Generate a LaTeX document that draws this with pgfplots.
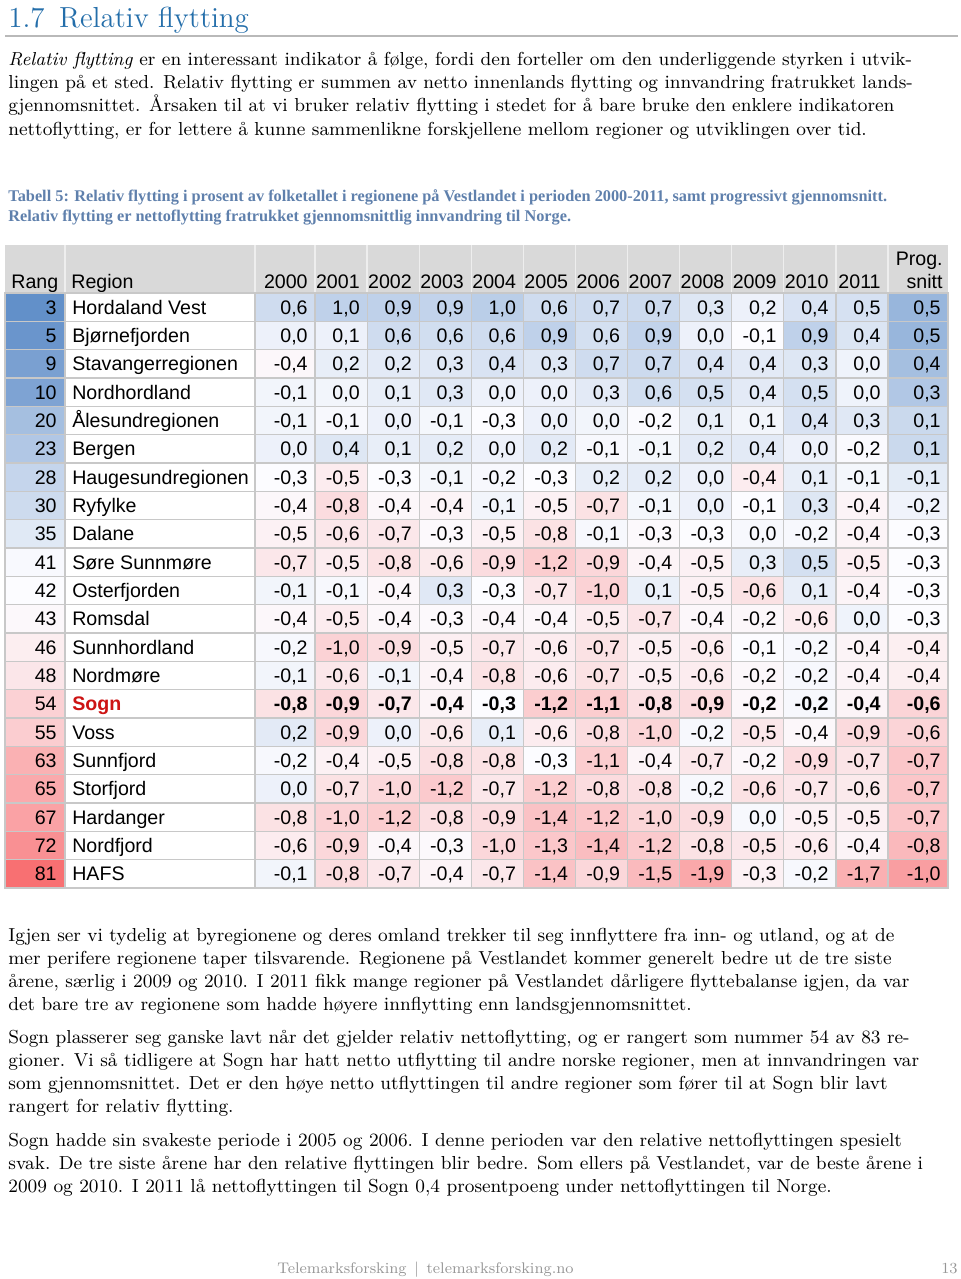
\documentclass[border=0pt]{standalone}
\usepackage{fontspec}
\usepackage{pgfplots}
\pgfplotsset{compat=1.18}
\usepackage{pgfplotstable}
\newfontfamily\tabfont{Liberation Sans}
\newfontfamily\capfont{Liberation Serif}
\definecolor{gridc}{RGB}{200,200,200}
\definecolor{headg}{RGB}{217,217,217}
\definecolor{headl}{RGB}{238,238,238}
\definecolor{titleblue}{RGB}{36,110,170}
\definecolor{capblue}{RGB}{95,128,172}
\definecolor{sognred}{RGB}{205,20,20}
\definecolor{footg}{RGB}{150,150,150}
\definecolor{rulegray}{RGB}{185,185,185}

\pgfdeclareplotmark{cellA}{\pgfpathrectangle{\pgfpoint{-15pt}{-7.0833pt}}{\pgfpoint{30pt}{14.1667pt}}\pgfusepathqfillstroke}
\pgfdeclareplotmark{cellB}{\pgfpathrectangle{\pgfpoint{-13.0225pt}{-7.0833pt}}{\pgfpoint{26.045pt}{14.1667pt}}\pgfusepathqfillstroke}
\pgfdeclareplotmark{cellR}{\pgfpathrectangle{\pgfpoint{-47.5pt}{-7.0833pt}}{\pgfpoint{95pt}{14.1667pt}}\pgfusepathqfillstroke}

% row = position in the table (0 = top)
\pgfplotstableread[col sep=comma]{
row,rank,region,y00,y01,y02,y03,y04,y05,y06,y07,y08,y09,y10,y11,prog
0,3,Hordaland Vest,0.6,1.0,0.9,0.9,1.0,0.6,0.7,0.7,0.3,0.2,0.4,0.5,0.5
1,5,Bjørnefjorden,0.0,0.1,0.6,0.6,0.6,0.9,0.6,0.9,0.0,-0.1,0.9,0.4,0.5
2,9,Stavangerregionen,-0.4,0.2,0.2,0.3,0.4,0.3,0.7,0.7,0.4,0.4,0.3,0.0,0.4
3,10,Nordhordland,-0.1,0.0,0.1,0.3,0.0,0.0,0.3,0.6,0.5,0.4,0.5,0.0,0.3
4,20,Ålesundregionen,-0.1,-0.1,0.0,-0.1,-0.3,0.0,0.0,-0.2,0.1,0.1,0.4,0.3,0.1
5,23,Bergen,0.0,0.4,0.1,0.2,0.0,0.2,-0.1,-0.1,0.2,0.4,0.0,-0.2,0.1
6,28,Haugesundregionen,-0.3,-0.5,-0.3,-0.1,-0.2,-0.3,0.2,0.2,0.0,-0.4,0.1,-0.1,-0.1
7,30,Ryfylke,-0.4,-0.8,-0.4,-0.4,-0.1,-0.5,-0.7,-0.1,0.0,-0.1,0.3,-0.4,-0.2
8,35,Dalane,-0.5,-0.6,-0.7,-0.3,-0.5,-0.8,-0.1,-0.3,-0.3,0.0,-0.2,-0.4,-0.3
9,41,Søre Sunnmøre,-0.7,-0.5,-0.8,-0.6,-0.9,-1.2,-0.9,-0.4,-0.5,0.3,0.5,-0.5,-0.3
10,42,Osterfjorden,-0.1,-0.1,-0.4,0.3,-0.3,-0.7,-1.0,0.1,-0.5,-0.6,0.1,-0.4,-0.3
11,43,Romsdal,-0.4,-0.5,-0.4,-0.3,-0.4,-0.4,-0.5,-0.7,-0.4,-0.2,-0.6,0.0,-0.3
12,46,Sunnhordland,-0.2,-1.0,-0.9,-0.5,-0.7,-0.6,-0.7,-0.5,-0.6,-0.1,-0.2,-0.4,-0.4
13,48,Nordmøre,-0.1,-0.6,-0.1,-0.4,-0.8,-0.6,-0.7,-0.5,-0.6,-0.2,-0.2,-0.4,-0.4
15,55,Voss,0.2,-0.9,0.0,-0.6,0.1,-0.6,-0.8,-1.0,-0.2,-0.5,-0.4,-0.9,-0.6
16,63,Sunnfjord,-0.2,-0.4,-0.5,-0.8,-0.8,-0.3,-1.1,-0.4,-0.7,-0.2,-0.9,-0.7,-0.7
17,65,Storfjord,0.0,-0.7,-1.0,-1.2,-0.7,-1.2,-0.8,-0.8,-0.2,-0.6,-0.7,-0.6,-0.7
18,67,Hardanger,-0.8,-1.0,-1.2,-0.8,-0.9,-1.4,-1.2,-1.0,-0.9,0.0,-0.5,-0.5,-0.7
19,72,Nordfjord,-0.6,-0.9,-0.4,-0.3,-1.0,-1.3,-1.4,-1.2,-0.8,-0.5,-0.6,-0.4,-0.8
20,81,HAFS,-0.1,-0.8,-0.7,-0.4,-0.7,-1.4,-0.9,-1.5,-1.9,-0.3,-0.2,-1.7,-1.0
}\vestdata

\pgfplotstableread[col sep=comma]{
row,rank,region,y00,y01,y02,y03,y04,y05,y06,y07,y08,y09,y10,y11,prog
14,54,Sogn,-0.8,-0.9,-0.7,-0.4,-0.3,-1.2,-1.1,-0.8,-0.9,-0.2,-0.2,-0.4,-0.6
}\sogndata

\tikzset{
  tabnode/.style={text=black, inner sep=0pt, font=\tabfont\fontsize{9.8}{11}\selectfont},
  tabnodeb/.style={text=black, inner sep=0pt, font=\tabfont\bfseries\fontsize{9.8}{11}\selectfont},
  tabnoder/.style={text=sognred, inner sep=0pt, font=\tabfont\bfseries\fontsize{9.8}{11}\selectfont},
}

% column, x centre, mark, xshift, white value, positive span, negative span, table, node style
\newcommand{\valcol}[9]{%
\addplot[only marks, scatter, mark=#3, point meta=explicit,
  scatter/use mapped color={draw=gridc,fill=mapped color},
  mark options={line width=0.6pt},
] table[x expr=#2, y expr={307.17+28.333*\thisrow{row}},
  meta expr={max(-1,min(1,(\thisrow{#1}-(#5))/ifthenelse(\thisrow{#1}>(#5),#6,#7)))}] {#8};
\addplot[draw=none, mark=none,
  visualization depends on={\thisrow{#1}\as\cellval},
  nodes near coords={\pgfmathprintnumber[fixed,fixed zerofill,precision=1,use comma,assume math mode=true]{\cellval}},
  every node near coord/.append style={#9, anchor=base east, xshift=#4, yshift=-3.5pt},
] table[x expr=#2, y expr={307.17+28.333*\thisrow{row}}] {#8};
}
\newcommand{\yearcols}[2]{%
\valcol{y00}{285}{cellA}{11.5pt}{-0.3}{3.2}{2.8}{#1}{#2}
\valcol{y01}{341.05}{cellB}{9.52pt}{-0.2}{3.2}{2.8}{#1}{#2}
\valcol{y02}{393.14}{cellB}{9.52pt}{-0.3}{3.2}{2.8}{#1}{#2}
\valcol{y03}{445.23}{cellB}{9.52pt}{-0.25}{3.2}{2.8}{#1}{#2}
\valcol{y04}{497.32}{cellB}{9.52pt}{-0.3}{3.2}{2.8}{#1}{#2}
\valcol{y05}{549.41}{cellB}{9.52pt}{-0.3}{3.2}{2.8}{#1}{#2}
\valcol{y06}{601.50}{cellB}{9.52pt}{-0.2}{3.2}{2.8}{#1}{#2}
\valcol{y07}{653.59}{cellB}{9.52pt}{-0.25}{3.2}{2.8}{#1}{#2}
\valcol{y08}{705.68}{cellB}{9.52pt}{-0.3}{3.2}{2.8}{#1}{#2}
\valcol{y09}{757.77}{cellB}{9.52pt}{-0.1}{3.2}{2.8}{#1}{#2}
\valcol{y10}{809.86}{cellB}{9.52pt}{-0.3}{3.2}{2.8}{#1}{#2}
\valcol{y11}{861.95}{cellB}{9.52pt}{-0.25}{3.2}{2.8}{#1}{#2}
\valcol{prog}{918}{cellA}{11.5pt}{-0.3}{1.3}{1.1}{#1}{#2}
}
% rank and region columns: table, region node style
\newcommand{\leftcols}[2]{%
\addplot[only marks, scatter, mark=cellA, point meta=explicit,
  scatter/use mapped color={draw=gridc,fill=mapped color},
  mark options={line width=0.6pt},
] table[x expr=35, y expr={307.17+28.333*\thisrow{row}}, meta expr={(42-\thisrow{rank})/41}] {#1};
\addplot[draw=none, mark=none,
  visualization depends on={\thisrow{rank}\as\rk},
  nodes near coords={\pgfmathprintnumber[fixed,precision=0,assume math mode=true]{\rk}},
  every node near coord/.append style={tabnode, anchor=base east, xshift=11pt, yshift=-3.5pt},
] table[x expr=35, y expr={307.17+28.333*\thisrow{row}}] {#1};
\addplot[only marks, mark=cellR,
  mark options={draw=gridc, fill=white, line width=0.6pt},
  point meta=explicit symbolic,
  nodes near coords={\pgfplotspointmeta},
  every node near coord/.append style={#2, anchor=base west, xshift=-44.15pt, yshift=-3.5pt},
] table[x expr=160, y expr={307.17+28.333*\thisrow{row}}, meta=region] {#1};
}

\newcommand{\bodyline}[2]{\node[anchor=base west, inner sep=0pt, font=\fontsize{9.4}{11}\selectfont] at (axis cs:8,#1) {#2};}
\newcommand{\capline}[2]{\node[anchor=base west, inner sep=0pt, text=capblue, font=\capfont\bfseries\fontsize{8.15}{9}\selectfont] at (axis cs:8,#1) {#2};}
\newcommand{\headyear}[2]{\node[tabnode, anchor=base east] at (axis cs:#1,288) {#2};}

\begin{document}
\begin{tikzpicture}
\begin{axis}[
  scale only axis, width=480pt, height=639.5pt,
  xmin=0, xmax=960, ymin=0, ymax=1279, y dir=reverse,
  hide axis, clip=false,
  colormap={excelbwr}{rgb255(0cm)=(248,105,107) rgb255(1cm)=(252,252,255) rgb255(2cm)=(90,138,198)},
  point meta min=-1, point meta max=1,
]
\coordinate (pgtl) at (axis cs:0,0);
\coordinate (pgbr) at (axis cs:960,1279);

% title
\node[anchor=base west, inner sep=0pt, text=titleblue, font=\fontsize{14.5}{16}\selectfont] at (axis cs:8,28) {1.7\enspace Relativ flytting};
\draw[rulegray, line width=1pt] (axis cs:5,36.5) -- (axis cs:958,36.5);

% paragraph 1
\bodyline{66}{\textit{Relativ flytting} er en interessant indikator å følge, fordi den forteller om den underliggende styrken i utvik-}
\bodyline{89}{lingen på et sted. Relativ flytting er summen av netto innenlands flytting og innvandring fratrukket lands-}
\bodyline{112}{gjennomsnittet. Årsaken til at vi bruker relativ flytting i stedet for å bare bruke den enklere indikatoren}
\bodyline{135}{nettoflytting, er for lettere å kunne sammenlikne forskjellene mellom regioner og utviklingen over tid.}

% caption
\capline{201}{Tabell 5: Relativ flytting i prosent av folketallet i regionene på Vestlandet i perioden 2000-2011, samt progressivt gjennomsnitt.}
\capline{221}{Relativ flytting er nettoflytting fratrukket gjennomsnittlig innvandring til Norge.}

% header
\fill[headg] (axis cs:5,245) rectangle (axis cs:948,293);
\pgfplotsinvokeforeach{65,255,315,367.09,419.18,471.27,523.36,575.45,627.54,679.63,731.72,783.81,835.9,888}{
  \draw[headl, line width=0.6pt] (axis cs:#1,245) -- (axis cs:#1,293);
}
\node[tabnode, anchor=base west] at (axis cs:11,288) {Rang};
\node[tabnode, anchor=base west] at (axis cs:71,288) {Region};
\headyear{308}{2000}
\headyear{360.09}{2001}
\headyear{412.18}{2002}
\headyear{464.27}{2003}
\headyear{516.36}{2004}
\headyear{568.45}{2005}
\headyear{620.54}{2006}
\headyear{672.63}{2007}
\headyear{724.72}{2008}
\headyear{776.81}{2009}
\headyear{828.9}{2010}
\headyear{881}{2011}
\node[tabnode, anchor=base east] at (axis cs:943,265) {Prog.};
\node[tabnode, anchor=base east] at (axis cs:943,288) {snitt};

% table body
\leftcols{\vestdata}{tabnode}
\leftcols{\sogndata}{tabnoder}
\yearcols{\vestdata}{tabnode}
\yearcols{\sogndata}{tabnodeb}

% paragraph 2
\bodyline{941}{Igjen ser vi tydelig at byregionene og deres omland trekker til seg innflyttere fra inn- og utland, og at de}
\bodyline{964}{mer perifere regionene taper tilsvarende. Regionene på Vestlandet kommer generelt bedre ut de tre siste}
\bodyline{987}{årene, særlig i 2009 og 2010. I 2011 fikk mange regioner på Vestlandet dårligere flyttebalanse igjen, da var}
\bodyline{1010}{det bare tre av regionene som hadde høyere innflytting enn landsgjennomsnittet.}
% paragraph 3
\bodyline{1043}{Sogn plasserer seg ganske lavt når det gjelder relativ nettoflytting, og er rangert som nummer 54 av 83 re-}
\bodyline{1066}{gioner. Vi så tidligere at Sogn har hatt netto utflytting til andre norske regioner, men at innvandringen var}
\bodyline{1089}{som gjennomsnittet. Det er den høye netto utflyttingen til andre regioner som fører til at Sogn blir lavt}
\bodyline{1112}{rangert for relativ flytting.}
% paragraph 4
\bodyline{1146}{Sogn hadde sin svakeste periode i 2005 og 2006. I denne perioden var den relative nettoflyttingen spesielt}
\bodyline{1169}{svak. De tre siste årene har den relative flyttingen blir bedre. Som ellers på Vestlandet, var de beste årene i}
\bodyline{1192}{2009 og 2010. I 2011 lå nettoflyttingen til Sogn 0,4 prosentpoeng under nettoflyttingen til Norge.}

% footer
\node[anchor=base west, inner sep=0pt, text=footg, font=\fontsize{7.7}{10}\selectfont] at (axis cs:277,1273) {Telemarksforsking\enspace|\enspace telemarksforsking.no};
\node[anchor=base east, inner sep=0pt, text=footg, font=\fontsize{7.7}{10}\selectfont] at (axis cs:958,1273) {13};
\end{axis}
\pgfresetboundingbox
\path[use as bounding box] (pgtl) rectangle (pgbr);
\end{tikzpicture}
\end{document}
